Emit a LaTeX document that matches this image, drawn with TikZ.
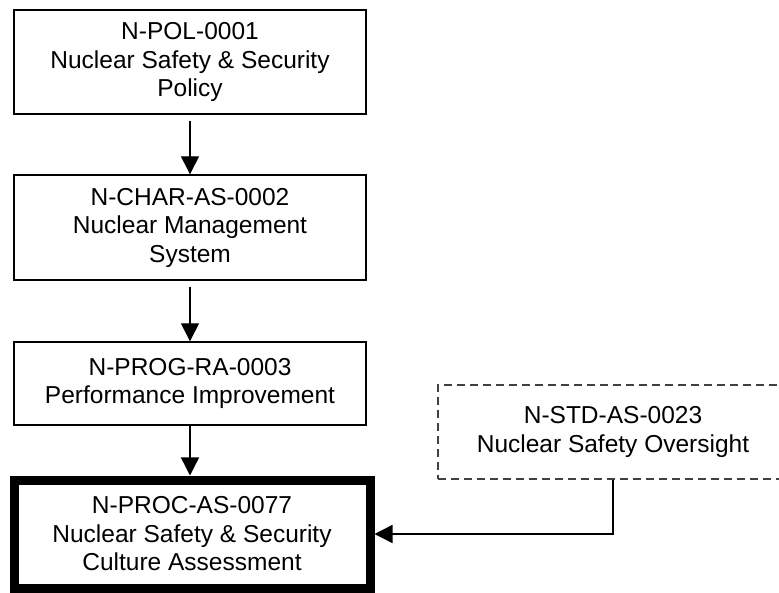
\documentclass[tikz,border=0pt]{standalone}
\usepackage{fontspec}
\setmainfont{Liberation Sans}
\usetikzlibrary{arrows.meta}

\begin{document}
\begin{tikzpicture}[x=1pt,y=1pt,
	doc_box/.style={rectangle,draw,line width=1.4pt,minimum width=352pt,align=center,inner sep=0pt,font=\fontsize{24.5}{28.5}\selectfont},
	link/.style={line width=1.4pt,-{Triangle[width=18pt,length=18pt]}}]

		\useasboundingbox (0,0) rectangle (779,592);

		\node[doc_box,minimum height=104pt] (pol) at (190,530) {N-POL-0001\\Nuclear Safety \& Security\\Policy};
		\node[doc_box,minimum height=105pt] (char) at (190,364.5) {N-CHAR-AS-0002\\Nuclear Management\\System};
		\node[doc_box,minimum height=83pt] (prog) at (190,208.5) {N-PROG-RA-0003\\Performance Improvement};
		\node[doc_box,line width=9pt,minimum width=356pt,minimum height=108pt] (proc) at (192,58) {N-PROC-AS-0077\\Nuclear Safety \& Security\\Culture Assessment};
		\node[doc_box,dashed,line width=1.8pt,dash pattern=on 8pt off 5pt,draw=black!75,minimum width=350pt,minimum height=94pt] (std) at (613,160) {N-STD-AS-0023\\Nuclear Safety Oversight};

		\draw[link,shorten <=6pt] (pol) -- (char);
		\draw[link,shorten <=6pt] (char) -- (prog);
		\draw[link] (prog.south) -- (prog.south |- proc.north);
		\draw[link] (std.south) |- (proc.east);
		\end{tikzpicture}
\end{document}
